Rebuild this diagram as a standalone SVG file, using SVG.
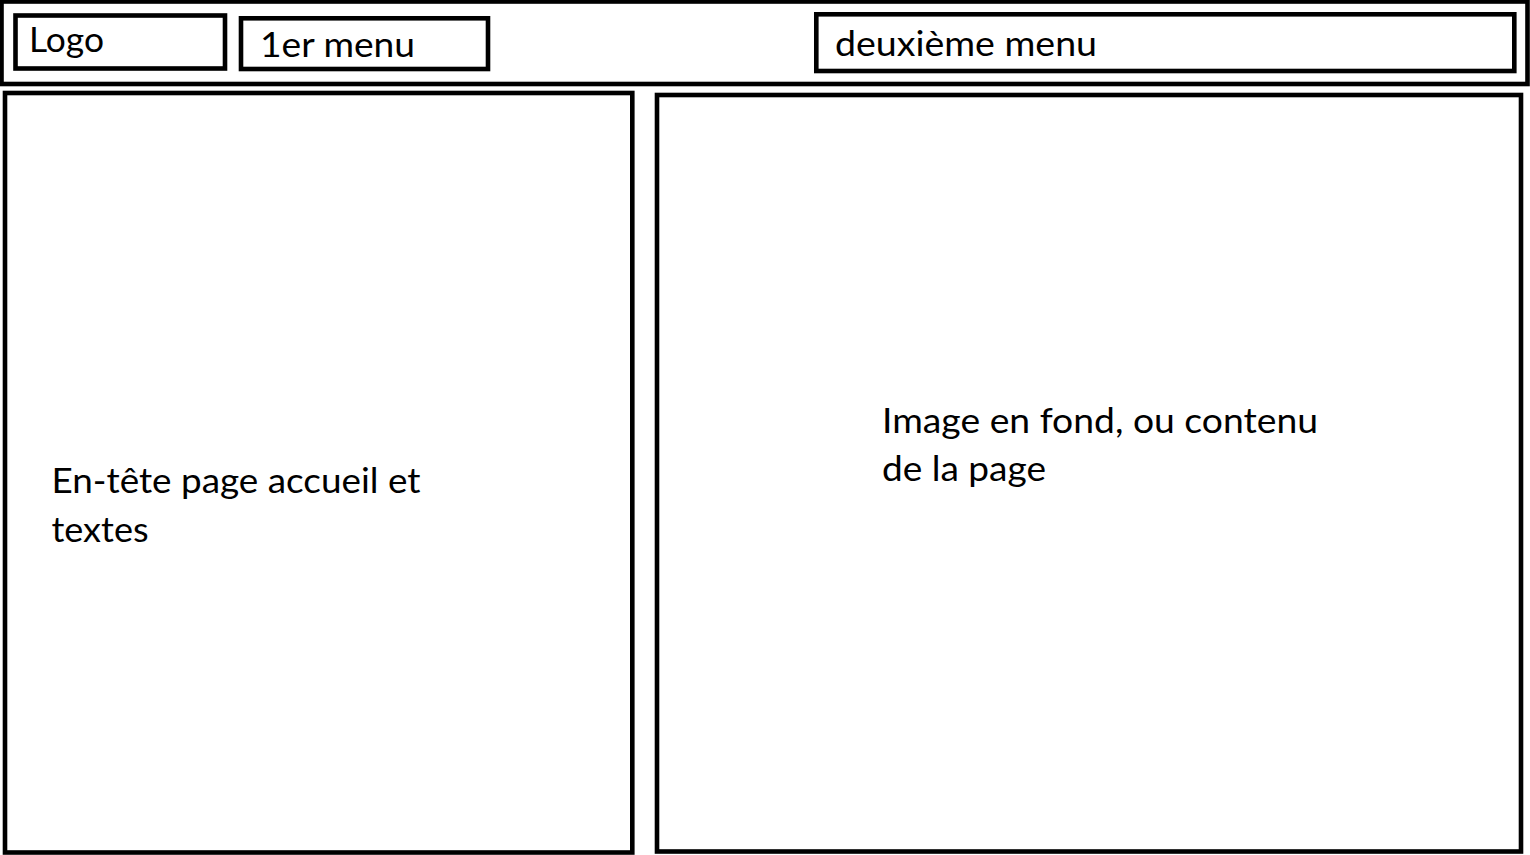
<svg xmlns="http://www.w3.org/2000/svg" width="1530" height="855" viewBox="0 0 1530 855">
  <style>
    .box { fill: #ffffff; stroke: #000000; stroke-width: 4.6; }
    .lbl { font-family: Lato, "Open Sans", "Liberation Sans", sans-serif; font-size: 34px; fill: #000000; }
  </style>
  <rect x="0" y="0" width="1530" height="855" fill="#ffffff"/>
  <g id="header">
    <rect class="box" x="1.5" y="1.5" width="1526" height="82.5"/>
  </g>
  <g id="logo">
    <rect class="box" x="15.5" y="15.5" width="209.5" height="53"/>
    <text class="lbl" x="29" y="51.7" textLength="75" lengthAdjust="spacingAndGlyphs">Logo</text>
  </g>
  <g id="menu1">
    <rect class="box" x="241" y="18.3" width="247" height="50.7"/>
    <text class="lbl" x="260" y="56.7" textLength="155" lengthAdjust="spacingAndGlyphs">1er menu</text>
  </g>
  <g id="menu2">
    <rect class="box" x="816.3" y="14.3" width="698" height="56.7"/>
    <text class="lbl" x="835" y="55.5" textLength="262" lengthAdjust="spacingAndGlyphs">deuxième menu</text>
  </g>
  <g id="left-panel">
    <rect class="box" x="5" y="93" width="627.3" height="759.5"/>
    <text class="lbl" x="51.5" y="493.3" textLength="369" lengthAdjust="spacingAndGlyphs">En-tête page accueil et</text>
    <text class="lbl" x="51.5" y="541.7" textLength="97" lengthAdjust="spacingAndGlyphs">textes</text>
  </g>
  <g id="right-panel">
    <rect class="box" x="657" y="95" width="864" height="756.5"/>
    <text class="lbl" x="882" y="432.5" textLength="436" lengthAdjust="spacingAndGlyphs">Image en fond, ou contenu</text>
    <text class="lbl" x="882" y="481" textLength="164" lengthAdjust="spacingAndGlyphs">de la page</text>
  </g>
  <g id="connectors"></g>
</svg>
